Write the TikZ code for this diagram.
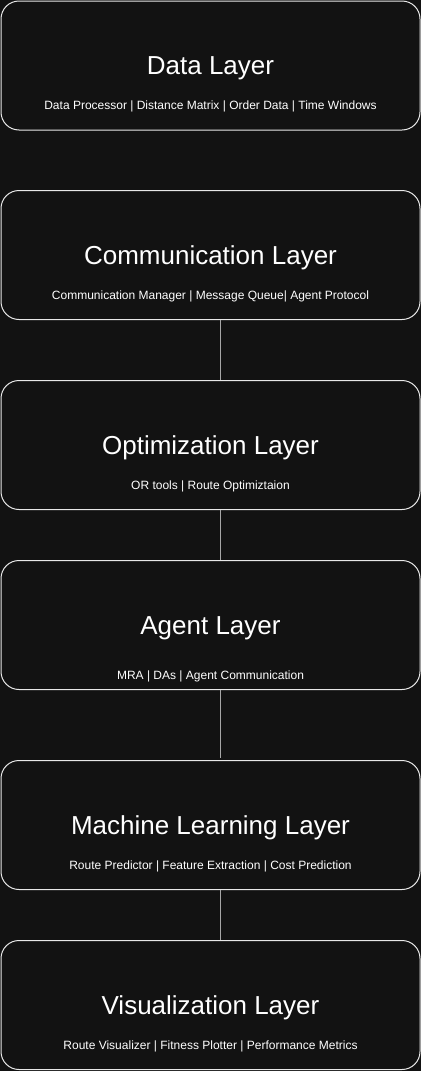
\documentclass[tikz,border=0pt]{standalone}
\usepackage{fontspec}
\setmainfont{Liberation Sans}
\usetikzlibrary{positioning}
\definecolor{bgdark}{HTML}{121212}
\definecolor{edgelight}{HTML}{E8E8E8}
\tikzstyle{layer} = [draw=edgelight, line width=1pt, rounded corners=18pt, fill=bgdark, minimum width=419pt, minimum height=129pt, inner sep=0pt]
\tikzstyle{title} = [text=white, font=\fontsize{26}{30}\selectfont, inner sep=0pt]
\tikzstyle{parts} = [text=white, font=\fontsize{12}{14}\selectfont, inner sep=0pt]
\tikzstyle{link} = [draw=gray!70!white, line width=1pt]

\begin{document}
\begin{tikzpicture}[x=1pt, y=-1pt]
    \fill[bgdark] (0,0) rectangle (421,1071);
    \useasboundingbox (0,0) rectangle (421,1071);
    \def \cx {210.5}
    \node[layer] (data) at (\cx, 65.5) {};
        \node[title] (datat) at ([yshift=-3pt]data.center) {Data Layer};
        \node[parts] (datap) at ([yshift=-41pt]data.center) {Data Processor | Distance Matrix | Order Data | Time Windows};
    \node[layer] (comm) at (\cx, 255) {};
        \node[title] (commt) at ([yshift=-3pt]comm.center) {Communication Layer};
        \node[parts] (commp) at ([yshift=-41pt]comm.center) {Communication Manager | Message Queue| Agent Protocol};
    \node[layer] (opt) at (\cx, 445) {};
        \node[title] (optt) at ([yshift=-3pt]opt.center) {Optimization Layer};
        \node[parts] (optp) at ([yshift=-41pt]opt.center) {OR tools | Route Optimiztaion};
    \node[layer] (agent) at (\cx, 625) {};
        \node[title] (agentt) at ([yshift=-3pt]agent.center) {Agent Layer};
        \node[parts] (agentp) at ([yshift=-51pt]agent.center) {MRA | DAs | Agent Communication};
    \node[layer] (ml) at (\cx, 825) {};
        \node[title] (mlt) at ([yshift=-3pt]ml.center) {Machine Learning Layer};
        \node[parts] (mlp) at ([yshift=-41pt]ml.center) {Route Predictor | Feature Extraction | Cost Prediction};
    \node[layer] (vis) at (\cx, 1005) {};
        \node[title] (vist) at ([yshift=-3pt]vis.center) {Visualization Layer};
        \node[parts] (visp) at ([yshift=-41pt]vis.center) {Route Visualizer | Fitness Plotter | Performance Metrics};
    % links between layers
    \draw[link] ([xshift=9.5pt]comm.south) -- ([xshift=9.5pt]opt.north);
    \draw[link] ([xshift=9.5pt]opt.south) -- ([xshift=9.5pt]agent.north);
    \draw[link] ([xshift=9.5pt]agent.south) -- ([xshift=9.5pt,yshift=2pt]ml.north);
    \draw[link] ([xshift=9.5pt]ml.south) -- ([xshift=9.5pt]vis.north);
\end{tikzpicture}
\end{document}
